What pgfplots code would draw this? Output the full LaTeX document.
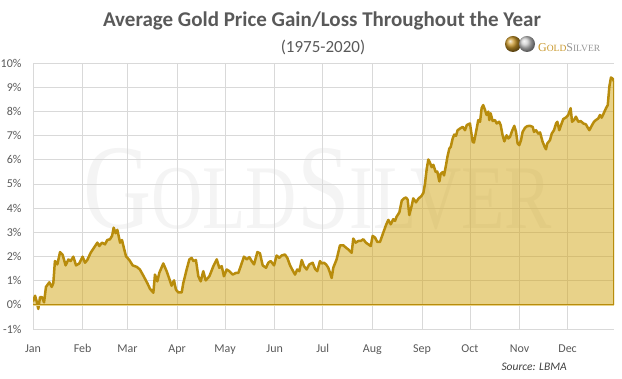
\documentclass[border=0pt]{standalone}
\usepackage{pgfplots}
\usepackage{pgfplotstable}
\pgfplotsset{compat=1.18}
\usepackage{fontspec}
\setmainfont{Carlito}
\newfontfamily\wmfont{Liberation Serif}
\definecolor{goldline}{RGB}{184,140,12}
\definecolor{goldfill}{RGB}{210,165,20}
\definecolor{txtgray}{RGB}{89,89,89}
\definecolor{gridgray}{RGB}{217,217,217}
\definecolor{wmgray}{RGB}{244,244,244}
\definecolor{logogold}{RGB}{200,150,40}
\definecolor{logogray}{RGB}{150,150,150}

\pgfplotstableread{
day pct
0 0.14
1.3 0.375
2.3 0.14
3.3 -0.17
4.4 0.32
5.6 0.32
6.9 0.10
8.1 0.74
10.2 0.93
11.7 0.74
12.7 0.90
13.7 1.81
15.2 1.67
16.9 2.18
18.5 2.07
20.4 1.63
22.1 1.875
23.5 1.81
25.2 1.99
26.9 1.63
28.9 1.71
31.0 1.99
32.5 1.74
33.9 1.85
36.0 2.15
38.1 2.36
40.2 2.57
41.4 2.43
43.1 2.57
45.0 2.50
46.4 2.68
48.1 2.71
49.4 2.85
50.4 3.19
51.6 2.96
52.7 3.10
54.4 2.57
55.6 2.68
56.9 2.32
58.1 2.01
60.2 1.85
62.3 1.63
64.8 1.57
66.8 1.46
68.9 1.21
71.4 0.90
73.1 0.66
75.2 0.50
76.2 1.25
77.7 0.97
78.9 1.32
81.4 1.71
83.5 1.39
85.2 1.07
86.6 0.79
88.1 1.01
89.3 0.63
90.8 0.51
92.9 0.51
93.9 0.90
96.0 1.46
97.7 1.88
99.1 1.94
100.2 1.81
101.8 1.85
103.3 1.18
104.8 0.97
106.4 1.39
107.9 1.01
110.2 1.18
112.7 1.60
114.8 1.88
116.4 1.53
117.9 1.60
119.3 1.18
121.0 1.46
122.7 1.39
124.8 1.25
126.8 1.32
128.3 1.32
129.8 1.60
131.8 1.99
133.5 1.88
135.2 1.97
136.6 1.81
138.1 1.67
140.2 2.18
141.8 2.13
143.5 1.63
145.6 1.53
147.0 1.74
148.5 1.81
150.6 1.63
152.2 2.04
153.9 1.94
155.4 2.04
157.4 2.08
158.9 1.94
160.6 1.63
162.2 1.43
163.7 1.25
165.1 1.46
166.4 1.39
167.9 1.85
169.3 1.60
171.0 1.46
172.6 1.67
174.7 1.74
176.2 1.49
177.6 1.39
179.3 1.81
180.4 1.71
181.8 1.74
183.1 1.67
184.5 1.53
185.6 1.32
186.6 1.11
187.6 1.53
189.7 1.88
191.8 2.46
193.9 2.46
195.6 2.36
197.0 2.29
198.1 2.22
199.1 2.15
200.1 2.74
201.6 2.57
203.3 2.64
204.7 2.64
206.4 2.71
208.0 2.57
209.5 2.50
211.0 2.43
212.2 2.85
213.7 2.78
215.1 2.60
216.8 2.60
218.5 2.92
220.5 3.29
222.0 3.51
223.5 3.33
225.1 3.54
226.2 3.47
227.2 3.65
228.9 3.82
230.4 4.31
231.8 4.40
233.0 4.44
234.1 4.35
235.1 3.71
236.6 4.10
237.6 4.40
239.3 4.24
240.7 4.38
242.8 4.51
243.9 4.63
244.9 5.00
246.0 5.63
247.0 6.01
248.0 5.88
249.1 5.69
250.1 5.79
251.6 5.49
252.6 5.51
253.9 5.10
254.7 5.42
256.0 5.49
256.8 5.35
258.0 5.76
258.9 6.11
260.1 6.46
261.0 6.53
262.2 6.88
263.2 7.04
264.3 6.99
265.3 7.22
266.8 7.29
268.5 7.36
269.9 7.22
271.0 7.43
273.0 7.50
274.7 6.74
275.5 6.71
276.8 7.15
278.2 7.64
279.3 7.57
280.3 8.13
281.3 8.26
282.4 8.06
283.4 7.85
284.5 7.99
285.1 7.64
285.9 7.92
287.2 7.60
288.6 7.64
289.7 7.50
291.3 7.57
292.2 7.43
293.4 7.01
294.5 6.76
295.9 7.01
297.0 6.88
298.0 6.94
299.5 7.22
300.7 7.40
301.8 7.15
302.8 6.67
303.8 6.60
304.9 6.81
305.9 7.15
307.4 7.32
308.8 7.39
310.5 7.40
312.2 7.36
313.0 7.15
314.3 7.22
315.7 7.08
316.8 7.13
318.4 6.74
319.7 6.53
320.5 6.43
321.3 6.67
323.0 6.81
324.1 7.08
325.5 7.22
326.8 7.50
327.6 7.57
328.8 7.22
329.9 7.43
331.3 7.68
333.0 7.75
334.4 7.85
335.9 8.13
336.8 7.57
338.0 7.64
339.2 7.78
340.7 7.57
342.2 7.60
343.8 7.50
345.5 7.46
346.3 7.36
347.6 7.22
349.0 7.40
350.5 7.57
351.7 7.64
353.2 7.71
354.2 7.85
355.3 7.74
356.3 7.88
358.0 8.13
359.1 8.26
360.1 9.03
361.1 9.40
362.2 9.35
363.0 9.24
}\golddata

\begin{document}
\begin{tikzpicture}
\useasboundingbox (0,0) rectangle (622pt,379pt);
% watermark
\node[anchor=base west, inner sep=0pt, text=wmgray, xscale=0.78] at (83pt,150pt)
  {\wmfont\fontsize{121}{121}\selectfont G\fontsize{91}{91}\selectfont OLD\fontsize{121}{121}\selectfont S\fontsize{91}{91}\selectfont ILVER};

\begin{axis}[
  at={(33pt,50pt)}, anchor=south west,
  scale only axis, width=581pt, height=266pt,
  xmin=0, xmax=363, ymin=-1, ymax=10,
  axis line style={draw=none},
  xtick={0,31,59,90,120,151,181,212,243,273,304,334},
  xticklabels={Jan,Feb,Mar,Apr,May,Jun,Jul,Aug,Sep,Oct,Nov,Dec},
  ytick={-1,0,1,2,3,4,5,6,7,8,9,10},
  yticklabels={-1\%,0\%,1\%,2\%,3\%,4\%,5\%,6\%,7\%,8\%,9\%,10\%},
  grid=major,
  grid style={draw=gridgray, line width=0.8pt},
  major tick length=0pt,
  tick label style={font=\fontsize{12}{14}\selectfont, text=txtgray},
  yticklabel style={anchor=east, xshift=-8pt},
  xticklabel style={anchor=base, yshift=-24pt},
]
\addplot[draw=none, fill=goldfill, fill opacity=0.5] table[x=day,y=pct] {\golddata} \closedcycle;
\addplot[goldline, line width=2.5pt, line join=round] table[x=day,y=pct] {\golddata};
\addplot[goldline, line width=1.8pt] coordinates {(363,9.24) (363,0)};
\addplot[goldline, line width=0.7pt, double=white!50!goldfill, double distance=0.6pt] coordinates {(0,0) (363,0)};
\end{axis}

% title
\node[anchor=base, inner sep=0pt, text=txtgray, font=\bfseries\fontsize{21}{25}\selectfont] at (322pt,352.3pt)
  {Average Gold Price Gain/Loss Throughout the Year};
\node[anchor=base, inner sep=0pt, text=txtgray, font=\fontsize{17}{20}\selectfont] at (323pt,326pt)
  {(1975-2020)};
% logo
\shade[ball color=logogold] (513pt,335pt) circle (8pt);
\shade[ball color=black!20] (527pt,335pt) circle (8pt);
\node[anchor=base west, inner sep=0pt] at (538pt,327.5pt)
  {\wmfont\color{logogold}\fontsize{12}{12}\selectfont G\fontsize{9.5}{9.5}\selectfont OLD\color{logogray}\fontsize{12}{12}\selectfont S\fontsize{9.5}{9.5}\selectfont ILVER};
% source
\node[anchor=base east, inner sep=0pt, text=black!75, font=\itshape\fontsize{11.5}{13}\selectfont] at (567pt,8pt)
  {Source: LBMA};
\end{tikzpicture}
\end{document}
